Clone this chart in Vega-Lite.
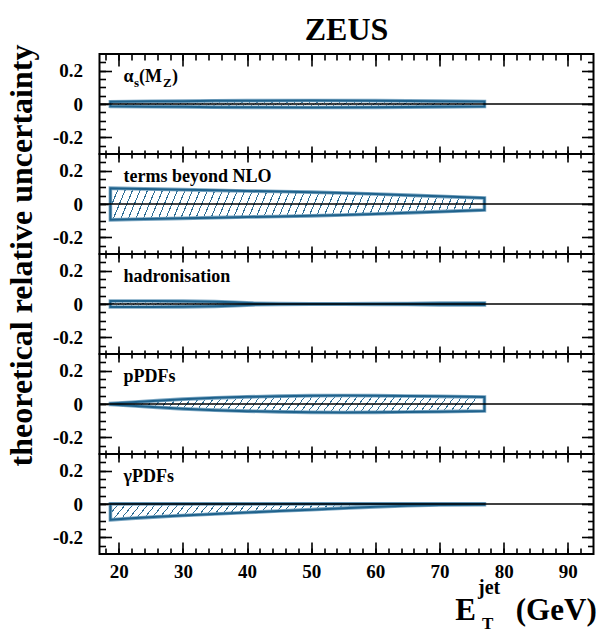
{
"$schema":"https://vega.github.io/schema/vega-lite/v6.json",
"background":"white",
"padding":{"left":3.5,"top":13,"right":0,"bottom":0},
"spacing":0,
"bounds":"flush",
"datasets":{
"as":[{"E":18.7,"lo":-0.014,"hi":0.014},{"E":25,"lo":-0.016,"hi":0.016},{"E":30,"lo":-0.017,"hi":0.017},{"E":35,"lo":-0.019,"hi":0.019},{"E":40,"lo":-0.02,"hi":0.02},{"E":50,"lo":-0.021,"hi":0.021},{"E":60,"lo":-0.02,"hi":0.02},{"E":70,"lo":-0.017,"hi":0.017},{"E":77,"lo":-0.015,"hi":0.015}],
"nlo":[{"E":18.7,"lo":-0.095,"hi":0.095},{"E":22,"lo":-0.092,"hi":0.092},{"E":26,"lo":-0.089,"hi":0.089},{"E":30,"lo":-0.086,"hi":0.086},{"E":35,"lo":-0.082,"hi":0.082},{"E":40,"lo":-0.078,"hi":0.078},{"E":45,"lo":-0.075,"hi":0.075},{"E":50,"lo":-0.071,"hi":0.071},{"E":55,"lo":-0.066,"hi":0.066},{"E":60,"lo":-0.06,"hi":0.06},{"E":65,"lo":-0.053,"hi":0.053},{"E":70,"lo":-0.046,"hi":0.046},{"E":77,"lo":-0.036,"hi":0.036}],
"had":[{"E":18.7,"lo":-0.018,"hi":0.018},{"E":25,"lo":-0.018,"hi":0.018},{"E":30,"lo":-0.017,"hi":0.017},{"E":35,"lo":-0.014,"hi":0.014},{"E":38,"lo":-0.01,"hi":0.01},{"E":41,"lo":-0.005,"hi":0.005},{"E":45,"lo":-0.002,"hi":0.002},{"E":50,"lo":-0.001,"hi":0.001},{"E":55,"lo":-0.001,"hi":0.001},{"E":60,"lo":-0.002,"hi":0.002},{"E":65,"lo":-0.003,"hi":0.003},{"E":70,"lo":-0.005,"hi":0.005},{"E":77,"lo":-0.006,"hi":0.006}],
"ppdf":[{"E":18.7,"lo":-0.003,"hi":0.003},{"E":22,"lo":-0.01,"hi":0.01},{"E":26,"lo":-0.02,"hi":0.02},{"E":30,"lo":-0.029,"hi":0.029},{"E":35,"lo":-0.037,"hi":0.037},{"E":40,"lo":-0.043,"hi":0.043},{"E":45,"lo":-0.047,"hi":0.047},{"E":50,"lo":-0.05,"hi":0.05},{"E":55,"lo":-0.051,"hi":0.051},{"E":60,"lo":-0.05,"hi":0.05},{"E":65,"lo":-0.048,"hi":0.048},{"E":70,"lo":-0.046,"hi":0.046},{"E":77,"lo":-0.042,"hi":0.042}],
"gpdf":[{"E":18.7,"lo":-0.095,"hi":0.001},{"E":22,"lo":-0.086,"hi":0.001},{"E":26,"lo":-0.077,"hi":0.001},{"E":30,"lo":-0.069,"hi":0.001},{"E":35,"lo":-0.06,"hi":0.001},{"E":40,"lo":-0.051,"hi":0.001},{"E":45,"lo":-0.042,"hi":0.001},{"E":50,"lo":-0.034,"hi":0.001},{"E":55,"lo":-0.025,"hi":0.001},{"E":60,"lo":-0.017,"hi":0.001},{"E":65,"lo":-0.01,"hi":0.001},{"E":70,"lo":-0.006,"hi":0.001},{"E":77,"lo":-0.004,"hi":0.001}]
},
"config":{
"view":{"stroke":"black","strokeWidth":2},
"axis":{"domain":false,"grid":false,"labelFont":"Liberation Serif","labelFontSize":19,"labelFontWeight":"bold","labelColor":"black","labelOverlap":false,"labelFlush":false,"tickColor":"black","tickWidth":1.6,"titleFont":"Liberation Serif","titleFontWeight":"bold","titleColor":"black"},
"text":{"font":"Liberation Serif","fontWeight":"bold","color":"black","align":"left","baseline":"alphabetic","fontSize":18},
"area":{"fill":{"gradient":"linear","x1":0,"y1":0,"x2":1,"y2":0.035,"stops":[
{"offset":0,"color":"#fff"},{"offset":0,"color":"#2d6e96"},{"offset":0.003,"color":"#2d6e96"},{"offset":0.003,"color":"#fff"},
{"offset":0.02,"color":"#fff"},{"offset":0.02,"color":"#2d6e96"},{"offset":0.023,"color":"#2d6e96"},{"offset":0.023,"color":"#fff"},
{"offset":0.04,"color":"#fff"},{"offset":0.04,"color":"#2d6e96"},{"offset":0.043,"color":"#2d6e96"},{"offset":0.043,"color":"#fff"},
{"offset":0.06,"color":"#fff"},{"offset":0.06,"color":"#2d6e96"},{"offset":0.063,"color":"#2d6e96"},{"offset":0.063,"color":"#fff"},
{"offset":0.08,"color":"#fff"},{"offset":0.08,"color":"#2d6e96"},{"offset":0.083,"color":"#2d6e96"},{"offset":0.083,"color":"#fff"},
{"offset":0.1,"color":"#fff"},{"offset":0.1,"color":"#2d6e96"},{"offset":0.103,"color":"#2d6e96"},{"offset":0.103,"color":"#fff"},
{"offset":0.12,"color":"#fff"},{"offset":0.12,"color":"#2d6e96"},{"offset":0.123,"color":"#2d6e96"},{"offset":0.123,"color":"#fff"},
{"offset":0.14,"color":"#fff"},{"offset":0.14,"color":"#2d6e96"},{"offset":0.143,"color":"#2d6e96"},{"offset":0.143,"color":"#fff"},
{"offset":0.16,"color":"#fff"},{"offset":0.16,"color":"#2d6e96"},{"offset":0.163,"color":"#2d6e96"},{"offset":0.163,"color":"#fff"},
{"offset":0.18,"color":"#fff"},{"offset":0.18,"color":"#2d6e96"},{"offset":0.183,"color":"#2d6e96"},{"offset":0.183,"color":"#fff"},
{"offset":0.2,"color":"#fff"},{"offset":0.2,"color":"#2d6e96"},{"offset":0.203,"color":"#2d6e96"},{"offset":0.203,"color":"#fff"},
{"offset":0.22,"color":"#fff"},{"offset":0.22,"color":"#2d6e96"},{"offset":0.223,"color":"#2d6e96"},{"offset":0.223,"color":"#fff"},
{"offset":0.24,"color":"#fff"},{"offset":0.24,"color":"#2d6e96"},{"offset":0.243,"color":"#2d6e96"},{"offset":0.243,"color":"#fff"},
{"offset":0.26,"color":"#fff"},{"offset":0.26,"color":"#2d6e96"},{"offset":0.263,"color":"#2d6e96"},{"offset":0.263,"color":"#fff"},
{"offset":0.28,"color":"#fff"},{"offset":0.28,"color":"#2d6e96"},{"offset":0.283,"color":"#2d6e96"},{"offset":0.283,"color":"#fff"},
{"offset":0.3,"color":"#fff"},{"offset":0.3,"color":"#2d6e96"},{"offset":0.303,"color":"#2d6e96"},{"offset":0.303,"color":"#fff"},
{"offset":0.32,"color":"#fff"},{"offset":0.32,"color":"#2d6e96"},{"offset":0.323,"color":"#2d6e96"},{"offset":0.323,"color":"#fff"},
{"offset":0.34,"color":"#fff"},{"offset":0.34,"color":"#2d6e96"},{"offset":0.343,"color":"#2d6e96"},{"offset":0.343,"color":"#fff"},
{"offset":0.36,"color":"#fff"},{"offset":0.36,"color":"#2d6e96"},{"offset":0.363,"color":"#2d6e96"},{"offset":0.363,"color":"#fff"},
{"offset":0.38,"color":"#fff"},{"offset":0.38,"color":"#2d6e96"},{"offset":0.383,"color":"#2d6e96"},{"offset":0.383,"color":"#fff"},
{"offset":0.4,"color":"#fff"},{"offset":0.4,"color":"#2d6e96"},{"offset":0.403,"color":"#2d6e96"},{"offset":0.403,"color":"#fff"},
{"offset":0.42,"color":"#fff"},{"offset":0.42,"color":"#2d6e96"},{"offset":0.423,"color":"#2d6e96"},{"offset":0.423,"color":"#fff"},
{"offset":0.44,"color":"#fff"},{"offset":0.44,"color":"#2d6e96"},{"offset":0.443,"color":"#2d6e96"},{"offset":0.443,"color":"#fff"},
{"offset":0.46,"color":"#fff"},{"offset":0.46,"color":"#2d6e96"},{"offset":0.463,"color":"#2d6e96"},{"offset":0.463,"color":"#fff"},
{"offset":0.48,"color":"#fff"},{"offset":0.48,"color":"#2d6e96"},{"offset":0.483,"color":"#2d6e96"},{"offset":0.483,"color":"#fff"},
{"offset":0.5,"color":"#fff"},{"offset":0.5,"color":"#2d6e96"},{"offset":0.503,"color":"#2d6e96"},{"offset":0.503,"color":"#fff"},
{"offset":0.52,"color":"#fff"},{"offset":0.52,"color":"#2d6e96"},{"offset":0.523,"color":"#2d6e96"},{"offset":0.523,"color":"#fff"},
{"offset":0.54,"color":"#fff"},{"offset":0.54,"color":"#2d6e96"},{"offset":0.543,"color":"#2d6e96"},{"offset":0.543,"color":"#fff"},
{"offset":0.56,"color":"#fff"},{"offset":0.56,"color":"#2d6e96"},{"offset":0.563,"color":"#2d6e96"},{"offset":0.563,"color":"#fff"},
{"offset":0.58,"color":"#fff"},{"offset":0.58,"color":"#2d6e96"},{"offset":0.583,"color":"#2d6e96"},{"offset":0.583,"color":"#fff"},
{"offset":0.6,"color":"#fff"},{"offset":0.6,"color":"#2d6e96"},{"offset":0.603,"color":"#2d6e96"},{"offset":0.603,"color":"#fff"},
{"offset":0.62,"color":"#fff"},{"offset":0.62,"color":"#2d6e96"},{"offset":0.623,"color":"#2d6e96"},{"offset":0.623,"color":"#fff"},
{"offset":0.64,"color":"#fff"},{"offset":0.64,"color":"#2d6e96"},{"offset":0.643,"color":"#2d6e96"},{"offset":0.643,"color":"#fff"},
{"offset":0.66,"color":"#fff"},{"offset":0.66,"color":"#2d6e96"},{"offset":0.663,"color":"#2d6e96"},{"offset":0.663,"color":"#fff"},
{"offset":0.68,"color":"#fff"},{"offset":0.68,"color":"#2d6e96"},{"offset":0.683,"color":"#2d6e96"},{"offset":0.683,"color":"#fff"},
{"offset":0.7,"color":"#fff"},{"offset":0.7,"color":"#2d6e96"},{"offset":0.703,"color":"#2d6e96"},{"offset":0.703,"color":"#fff"},
{"offset":0.72,"color":"#fff"},{"offset":0.72,"color":"#2d6e96"},{"offset":0.723,"color":"#2d6e96"},{"offset":0.723,"color":"#fff"},
{"offset":0.74,"color":"#fff"},{"offset":0.74,"color":"#2d6e96"},{"offset":0.743,"color":"#2d6e96"},{"offset":0.743,"color":"#fff"},
{"offset":0.76,"color":"#fff"},{"offset":0.76,"color":"#2d6e96"},{"offset":0.763,"color":"#2d6e96"},{"offset":0.763,"color":"#fff"},
{"offset":0.78,"color":"#fff"},{"offset":0.78,"color":"#2d6e96"},{"offset":0.783,"color":"#2d6e96"},{"offset":0.783,"color":"#fff"},
{"offset":0.8,"color":"#fff"},{"offset":0.8,"color":"#2d6e96"},{"offset":0.803,"color":"#2d6e96"},{"offset":0.803,"color":"#fff"},
{"offset":0.82,"color":"#fff"},{"offset":0.82,"color":"#2d6e96"},{"offset":0.823,"color":"#2d6e96"},{"offset":0.823,"color":"#fff"},
{"offset":0.84,"color":"#fff"},{"offset":0.84,"color":"#2d6e96"},{"offset":0.843,"color":"#2d6e96"},{"offset":0.843,"color":"#fff"},
{"offset":0.86,"color":"#fff"},{"offset":0.86,"color":"#2d6e96"},{"offset":0.863,"color":"#2d6e96"},{"offset":0.863,"color":"#fff"},
{"offset":0.88,"color":"#fff"},{"offset":0.88,"color":"#2d6e96"},{"offset":0.883,"color":"#2d6e96"},{"offset":0.883,"color":"#fff"},
{"offset":0.9,"color":"#fff"},{"offset":0.9,"color":"#2d6e96"},{"offset":0.903,"color":"#2d6e96"},{"offset":0.903,"color":"#fff"},
{"offset":0.92,"color":"#fff"},{"offset":0.92,"color":"#2d6e96"},{"offset":0.923,"color":"#2d6e96"},{"offset":0.923,"color":"#fff"},
{"offset":0.94,"color":"#fff"},{"offset":0.94,"color":"#2d6e96"},{"offset":0.943,"color":"#2d6e96"},{"offset":0.943,"color":"#fff"},
{"offset":0.96,"color":"#fff"},{"offset":0.96,"color":"#2d6e96"},{"offset":0.963,"color":"#2d6e96"},{"offset":0.963,"color":"#fff"},
{"offset":0.98,"color":"#fff"},{"offset":0.98,"color":"#2d6e96"},{"offset":0.983,"color":"#2d6e96"},{"offset":0.983,"color":"#fff"},
{"offset":1,"color":"#fff"}
]}}
},
"vconcat":[
{"width":494,"height":100,
"title":{"text":"ZEUS","fontSize":32,"font":"Liberation Serif","fontWeight":"bold","color":"black","anchor":"middle","frame":"group","offset":6},
"layer":[
{"data":{"name":"as"},"mark":{"type":"area"},"encoding":{"x":{"field":"E","type":"quantitative","scale":{"domain":[17,94],"nice":false,"zero":false},"axis":{"orient":"bottom","values":[20,30,40,50,60,70,80,90],"tickSize":-8,"labels":false,"title":null}},"y":{"field":"lo","type":"quantitative","scale":{"domain":[-0.3,0.3],"nice":false,"zero":false},"axis":{"orient":"left","values":[-0.2,0,0.2],"tickSize":-12,"labelPadding":29,"labelExpr":"datum.value < -0.1 ? '-0.2' : (datum.value > 0.1 ? '0.2' : '0')","title":null}},"y2":{"field":"hi"}}},
{"data":{"name":"as"},"mark":{"type":"area","fillOpacity":0,"stroke":"#7ba6c2","strokeWidth":3.6},"encoding":{"x":{"field":"E","type":"quantitative","axis":{"orient":"bottom","values":[18,20,22,24,26,28,30,32,34,36,38,40,42,44,46,48,50,52,54,56,58,60,62,64,66,68,70,72,74,76,78,80,82,84,86,88,90,92],"tickSize":-4,"labels":false,"title":null}},"y":{"field":"lo","type":"quantitative","axis":{"orient":"left","values":[-0.25,-0.2,-0.15,-0.1,-0.05,0,0.05,0.1,0.15,0.2,0.25],"tickSize":-6,"labels":false,"title":null}},"y2":{"field":"hi"}}},
{"data":{"name":"as"},"mark":{"type":"area","fillOpacity":0,"stroke":"#1f628c","strokeWidth":2},"encoding":{"x":{"field":"E","type":"quantitative","axis":{"orient":"top","values":[20,30,40,50,60,70,80,90],"tickSize":-12,"labels":false,"title":null}},"y":{"field":"lo","type":"quantitative","axis":{"orient":"right","values":[-0.2,0,0.2],"tickSize":-12,"labels":false,"title":null}},"y2":{"field":"hi"}}},
{"data":{"values":[{}]},"mark":{"type":"rule","color":"black","strokeWidth":1.3},"encoding":{"x":{"datum":17,"type":"quantitative","axis":{"orient":"top","values":[18,20,22,24,26,28,30,32,34,36,38,40,42,44,46,48,50,52,54,56,58,60,62,64,66,68,70,72,74,76,78,80,82,84,86,88,90,92],"tickSize":-6,"labels":false,"title":null}},"x2":{"datum":94},"y":{"datum":0,"type":"quantitative","axis":{"orient":"right","values":[-0.25,-0.2,-0.15,-0.1,-0.05,0,0.05,0.1,0.15,0.2,0.25],"tickSize":-6,"labels":false,"title":null}}}},
{"data":{"values":[{}]},"mark":{"type":"text","text":"α"},"encoding":{"x":{"datum":20.74,"type":"quantitative","axis":null},"y":{"datum":0.135,"type":"quantitative","axis":null}}},
{"data":{"values":[{}]},"mark":{"type":"text","text":"s","fontSize":13,"dx":10.5,"dy":5},"encoding":{"x":{"datum":20.74,"type":"quantitative","axis":null},"y":{"datum":0.135,"type":"quantitative","axis":null}}},
{"data":{"values":[{}]},"mark":{"type":"text","text":"(M","dx":15.5},"encoding":{"x":{"datum":20.74,"type":"quantitative","axis":null},"y":{"datum":0.135,"type":"quantitative","axis":null}}},
{"data":{"values":[{}]},"mark":{"type":"text","text":"Z","fontSize":13,"dx":39.5,"dy":5},"encoding":{"x":{"datum":20.74,"type":"quantitative","axis":null},"y":{"datum":0.135,"type":"quantitative","axis":null}}},
{"data":{"values":[{}]},"mark":{"type":"text","text":")","dx":48.5},"encoding":{"x":{"datum":20.74,"type":"quantitative","axis":null},"y":{"datum":0.135,"type":"quantitative","axis":null}}}
],
"resolve":{"axis":{"x":"independent","y":"independent"}}},
{"width":494,"height":100,
"layer":[
{"data":{"name":"nlo"},"mark":{"type":"area"},"encoding":{"x":{"field":"E","type":"quantitative","scale":{"domain":[17,94],"nice":false,"zero":false},"axis":{"orient":"bottom","values":[20,30,40,50,60,70,80,90],"tickSize":-8,"labels":false,"title":null}},"y":{"field":"lo","type":"quantitative","scale":{"domain":[-0.3,0.3],"nice":false,"zero":false},"axis":{"orient":"left","values":[-0.2,0,0.2],"tickSize":-12,"labelPadding":29,"labelExpr":"datum.value < -0.1 ? '-0.2' : (datum.value > 0.1 ? '0.2' : '0')","title":null}},"y2":{"field":"hi"}}},
{"data":{"name":"nlo"},"mark":{"type":"area","fillOpacity":0,"stroke":"#7ba6c2","strokeWidth":3.6},"encoding":{"x":{"field":"E","type":"quantitative","axis":{"orient":"bottom","values":[18,20,22,24,26,28,30,32,34,36,38,40,42,44,46,48,50,52,54,56,58,60,62,64,66,68,70,72,74,76,78,80,82,84,86,88,90,92],"tickSize":-4,"labels":false,"title":null}},"y":{"field":"lo","type":"quantitative","axis":{"orient":"left","values":[-0.25,-0.2,-0.15,-0.1,-0.05,0,0.05,0.1,0.15,0.2,0.25],"tickSize":-6,"labels":false,"title":null}},"y2":{"field":"hi"}}},
{"data":{"name":"nlo"},"mark":{"type":"area","fillOpacity":0,"stroke":"#1f628c","strokeWidth":2},"encoding":{"x":{"field":"E","type":"quantitative","axis":{"orient":"top","values":[20,30,40,50,60,70,80,90],"tickSize":-8,"labels":false,"title":null}},"y":{"field":"lo","type":"quantitative","axis":{"orient":"right","values":[-0.2,0,0.2],"tickSize":-12,"labels":false,"title":null}},"y2":{"field":"hi"}}},
{"data":{"values":[{}]},"mark":{"type":"rule","color":"black","strokeWidth":1.3},"encoding":{"x":{"datum":17,"type":"quantitative","axis":{"orient":"top","values":[18,20,22,24,26,28,30,32,34,36,38,40,42,44,46,48,50,52,54,56,58,60,62,64,66,68,70,72,74,76,78,80,82,84,86,88,90,92],"tickSize":-4,"labels":false,"title":null}},"x2":{"datum":94},"y":{"datum":0,"type":"quantitative","axis":{"orient":"right","values":[-0.25,-0.2,-0.15,-0.1,-0.05,0,0.05,0.1,0.15,0.2,0.25],"tickSize":-6,"labels":false,"title":null}}}},
{"data":{"values":[{}]},"mark":{"type":"text","text":"terms beyond NLO"},"encoding":{"x":{"datum":20.74,"type":"quantitative","axis":null},"y":{"datum":0.135,"type":"quantitative","axis":null}}}
],
"resolve":{"axis":{"x":"independent","y":"independent"}}},
{"width":494,"height":100,
"layer":[
{"data":{"name":"had"},"mark":{"type":"area"},"encoding":{"x":{"field":"E","type":"quantitative","scale":{"domain":[17,94],"nice":false,"zero":false},"axis":{"orient":"bottom","values":[20,30,40,50,60,70,80,90],"tickSize":-8,"labels":false,"title":null}},"y":{"field":"lo","type":"quantitative","scale":{"domain":[-0.3,0.3],"nice":false,"zero":false},"axis":{"orient":"left","values":[-0.2,0,0.2],"tickSize":-12,"labelPadding":29,"labelExpr":"datum.value < -0.1 ? '-0.2' : (datum.value > 0.1 ? '0.2' : '0')","title":"theoretical relative uncertainty","titleFontSize":32,"titleX":-78,"titleY":1,"titleAngle":270,"titleAlign":"center","titleBaseline":"middle"}},"y2":{"field":"hi"}}},
{"data":{"name":"had"},"mark":{"type":"area","fillOpacity":0,"stroke":"#7ba6c2","strokeWidth":3.6},"encoding":{"x":{"field":"E","type":"quantitative","axis":{"orient":"bottom","values":[18,20,22,24,26,28,30,32,34,36,38,40,42,44,46,48,50,52,54,56,58,60,62,64,66,68,70,72,74,76,78,80,82,84,86,88,90,92],"tickSize":-4,"labels":false,"title":null}},"y":{"field":"lo","type":"quantitative","axis":{"orient":"left","values":[-0.25,-0.2,-0.15,-0.1,-0.05,0,0.05,0.1,0.15,0.2,0.25],"tickSize":-6,"labels":false,"title":null}},"y2":{"field":"hi"}}},
{"data":{"name":"had"},"mark":{"type":"area","fillOpacity":0,"stroke":"#1f628c","strokeWidth":2},"encoding":{"x":{"field":"E","type":"quantitative","axis":{"orient":"top","values":[20,30,40,50,60,70,80,90],"tickSize":-8,"labels":false,"title":null}},"y":{"field":"lo","type":"quantitative","axis":{"orient":"right","values":[-0.2,0,0.2],"tickSize":-12,"labels":false,"title":null}},"y2":{"field":"hi"}}},
{"data":{"values":[{}]},"mark":{"type":"rule","color":"black","strokeWidth":1.3},"encoding":{"x":{"datum":17,"type":"quantitative","axis":{"orient":"top","values":[18,20,22,24,26,28,30,32,34,36,38,40,42,44,46,48,50,52,54,56,58,60,62,64,66,68,70,72,74,76,78,80,82,84,86,88,90,92],"tickSize":-4,"labels":false,"title":null}},"x2":{"datum":94},"y":{"datum":0,"type":"quantitative","axis":{"orient":"right","values":[-0.25,-0.2,-0.15,-0.1,-0.05,0,0.05,0.1,0.15,0.2,0.25],"tickSize":-6,"labels":false,"title":null}}}},
{"data":{"values":[{}]},"mark":{"type":"text","text":"hadronisation"},"encoding":{"x":{"datum":20.74,"type":"quantitative","axis":null},"y":{"datum":0.135,"type":"quantitative","axis":null}}}
],
"resolve":{"axis":{"x":"independent","y":"independent"}}},
{"width":494,"height":100,
"layer":[
{"data":{"name":"ppdf"},"mark":{"type":"area"},"encoding":{"x":{"field":"E","type":"quantitative","scale":{"domain":[17,94],"nice":false,"zero":false},"axis":{"orient":"bottom","values":[20,30,40,50,60,70,80,90],"tickSize":-8,"labels":false,"title":null}},"y":{"field":"lo","type":"quantitative","scale":{"domain":[-0.3,0.3],"nice":false,"zero":false},"axis":{"orient":"left","values":[-0.2,0,0.2],"tickSize":-12,"labelPadding":29,"labelExpr":"datum.value < -0.1 ? '-0.2' : (datum.value > 0.1 ? '0.2' : '0')","title":null}},"y2":{"field":"hi"}}},
{"data":{"name":"ppdf"},"mark":{"type":"area","fillOpacity":0,"stroke":"#7ba6c2","strokeWidth":3.6},"encoding":{"x":{"field":"E","type":"quantitative","axis":{"orient":"bottom","values":[18,20,22,24,26,28,30,32,34,36,38,40,42,44,46,48,50,52,54,56,58,60,62,64,66,68,70,72,74,76,78,80,82,84,86,88,90,92],"tickSize":-4,"labels":false,"title":null}},"y":{"field":"lo","type":"quantitative","axis":{"orient":"left","values":[-0.25,-0.2,-0.15,-0.1,-0.05,0,0.05,0.1,0.15,0.2,0.25],"tickSize":-6,"labels":false,"title":null}},"y2":{"field":"hi"}}},
{"data":{"name":"ppdf"},"mark":{"type":"area","fillOpacity":0,"stroke":"#1f628c","strokeWidth":2},"encoding":{"x":{"field":"E","type":"quantitative","axis":{"orient":"top","values":[20,30,40,50,60,70,80,90],"tickSize":-8,"labels":false,"title":null}},"y":{"field":"lo","type":"quantitative","axis":{"orient":"right","values":[-0.2,0,0.2],"tickSize":-12,"labels":false,"title":null}},"y2":{"field":"hi"}}},
{"data":{"values":[{}]},"mark":{"type":"rule","color":"black","strokeWidth":1.3},"encoding":{"x":{"datum":17,"type":"quantitative","axis":{"orient":"top","values":[18,20,22,24,26,28,30,32,34,36,38,40,42,44,46,48,50,52,54,56,58,60,62,64,66,68,70,72,74,76,78,80,82,84,86,88,90,92],"tickSize":-4,"labels":false,"title":null}},"x2":{"datum":94},"y":{"datum":0,"type":"quantitative","axis":{"orient":"right","values":[-0.25,-0.2,-0.15,-0.1,-0.05,0,0.05,0.1,0.15,0.2,0.25],"tickSize":-6,"labels":false,"title":null}}}},
{"data":{"values":[{}]},"mark":{"type":"text","text":"pPDFs"},"encoding":{"x":{"datum":20.74,"type":"quantitative","axis":null},"y":{"datum":0.135,"type":"quantitative","axis":null}}}
],
"resolve":{"axis":{"x":"independent","y":"independent"}}},
{"width":494,"height":100,
"layer":[
{"data":{"name":"gpdf"},"mark":{"type":"area"},"encoding":{"x":{"field":"E","type":"quantitative","scale":{"domain":[17,94],"nice":false,"zero":false},"axis":{"orient":"bottom","values":[20,30,40,50,60,70,80,90],"tickSize":-12,"labels":true,"labelPadding":20,"title":"E","titleFontSize":31,"titleX":376,"titleY":65,"titleAlign":"right","titleBaseline":"alphabetic"}},"y":{"field":"lo","type":"quantitative","scale":{"domain":[-0.3,0.3],"nice":false,"zero":false},"axis":{"orient":"left","values":[-0.2,0,0.2],"tickSize":-12,"labelPadding":29,"labelExpr":"datum.value < -0.1 ? '-0.2' : (datum.value > 0.1 ? '0.2' : '0')","title":null}},"y2":{"field":"hi"}}},
{"data":{"name":"gpdf"},"mark":{"type":"area","fillOpacity":0,"stroke":"#7ba6c2","strokeWidth":3.6},"encoding":{"x":{"field":"E","type":"quantitative","axis":{"orient":"bottom","values":[18,20,22,24,26,28,30,32,34,36,38,40,42,44,46,48,50,52,54,56,58,60,62,64,66,68,70,72,74,76,78,80,82,84,86,88,90,92],"tickSize":-6,"labels":false,"title":"jet","titleFontSize":20,"titleX":378,"titleY":39,"titleAlign":"left","titleBaseline":"alphabetic"}},"y":{"field":"lo","type":"quantitative","axis":{"orient":"left","values":[-0.25,-0.2,-0.15,-0.1,-0.05,0,0.05,0.1,0.15,0.2,0.25],"tickSize":-6,"labels":false,"title":null}},"y2":{"field":"hi"}}},
{"data":{"name":"gpdf"},"mark":{"type":"area","fillOpacity":0,"stroke":"#1f628c","strokeWidth":2},"encoding":{"x":{"field":"E","type":"quantitative","axis":{"orient":"top","values":[20,30,40,50,60,70,80,90],"tickSize":-8,"labels":false,"title":"T","titleFontSize":17,"titleX":382,"titleY":174,"titleAlign":"left","titleBaseline":"alphabetic"}},"y":{"field":"lo","type":"quantitative","axis":{"orient":"right","values":[-0.2,0,0.2],"tickSize":-12,"labels":false,"title":null}},"y2":{"field":"hi"}}},
{"data":{"values":[{}]},"mark":{"type":"rule","color":"black","strokeWidth":1.3},"encoding":{"x":{"datum":17,"type":"quantitative","axis":{"orient":"top","values":[18,20,22,24,26,28,30,32,34,36,38,40,42,44,46,48,50,52,54,56,58,60,62,64,66,68,70,72,74,76,78,80,82,84,86,88,90,92],"tickSize":-4,"labels":false,"title":"(GeV)","titleFontSize":31,"titleX":496.7,"titleY":165,"titleAlign":"right","titleBaseline":"alphabetic"}},"x2":{"datum":94},"y":{"datum":0,"type":"quantitative","axis":{"orient":"right","values":[-0.25,-0.2,-0.15,-0.1,-0.05,0,0.05,0.1,0.15,0.2,0.25],"tickSize":-6,"labels":false,"title":null}}}},
{"data":{"values":[{}]},"mark":{"type":"text","text":"γPDFs"},"encoding":{"x":{"datum":20.74,"type":"quantitative","axis":null},"y":{"datum":0.135,"type":"quantitative","axis":null}}}
],
"resolve":{"axis":{"x":"independent","y":"independent"}}}
]
}
